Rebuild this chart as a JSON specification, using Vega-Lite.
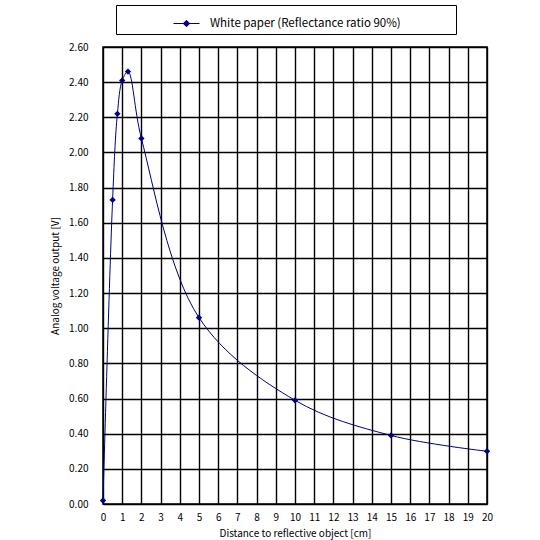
{
  "$schema": "https://vega.github.io/schema/vega-lite/v6.json",
  "width": 384,
  "height": 457,
  "autosize": {"type": "none"},
  "padding": {"left": 103, "top": 47, "right": 53, "bottom": 36},
  "background": "white",
  "data": {
    "values": [
      {"distance": 0, "voltage": 0.02, "series": "White paper (Reflectance ratio 90%)"},
      {"distance": 0.5, "voltage": 1.73, "series": "White paper (Reflectance ratio 90%)"},
      {"distance": 0.75, "voltage": 2.22, "series": "White paper (Reflectance ratio 90%)"},
      {"distance": 1, "voltage": 2.41, "series": "White paper (Reflectance ratio 90%)"},
      {"distance": 1.3, "voltage": 2.46, "series": "White paper (Reflectance ratio 90%)"},
      {"distance": 2, "voltage": 2.08, "series": "White paper (Reflectance ratio 90%)"},
      {"distance": 5, "voltage": 1.06, "series": "White paper (Reflectance ratio 90%)"},
      {"distance": 10, "voltage": 0.59, "series": "White paper (Reflectance ratio 90%)"},
      {"distance": 15, "voltage": 0.39, "series": "White paper (Reflectance ratio 90%)"},
      {"distance": 20, "voltage": 0.3, "series": "White paper (Reflectance ratio 90%)"}
    ]
  },
  "encoding": {
    "x": {
      "field": "distance",
      "type": "quantitative",
      "scale": {"domain": [0, 20], "nice": false},
      "axis": {
        "title": "Distance to reflective object [cm]",
        "values": [0, 1, 2, 3, 4, 5, 6, 7, 8, 9, 10, 11, 12, 13, 14, 15, 16, 17, 18, 19, 20],
        "labelFlush": false,
        "labelPadding": 8,
        "titlePadding": 6
      }
    },
    "y": {
      "field": "voltage",
      "type": "quantitative",
      "scale": {"domain": [0, 2.6], "nice": false},
      "axis": {
        "title": "Analog voltage output [V]",
        "values": [0, 0.2, 0.4, 0.6, 0.8, 1, 1.2, 1.4, 1.6, 1.8, 2, 2.2, 2.4, 2.6],
        "format": ".2f",
        "labelFlush": false,
        "labelPadding": 15,
        "titlePadding": 8
      }
    },
    "color": {
      "field": "series",
      "type": "nominal",
      "scale": {"range": ["#000080"]},
      "legend": {
        "title": null,
        "orient": "none",
        "legendX": 13,
        "legendY": -42,
        "strokeColor": "black",
        "fillColor": "white",
        "padding": 5,
        "symbolType": "M-1,0H1M-0.25,0L0,-0.25L0.25,0L0,0.25Z",
        "symbolSize": 676,
        "symbolStrokeWidth": 1,
        "symbolFillColor": "#000080",
        "symbolStrokeColor": "#000080",
        "symbolOffset": 52,
        "labelOffset": 10,
        "labelExpr": "datum.label + '\u00a0\u00a0\u00a0\u00a0\u00a0\u00a0\u00a0\u00a0\u00a0\u00a0\u00a0\u00a0\u00a0\u00a0\u00a0\u00a0\u2800'",
        "labelFontSize": 11.5,
        "labelLimit": 500
      }
    }
  },
  "layer": [
    {
      "mark": {"type": "line", "interpolate": "catmull-rom", "strokeWidth": 1}
    },
    {
      "mark": {"type": "point", "shape": "diamond", "filled": true, "size": 40, "opacity": 1}
    }
  ],
  "config": {
    "font": "Noto Sans CJK JP",
    "view": {"stroke": "black", "strokeWidth": 1.5},
    "axis": {
      "grid": true,
      "gridColor": "black",
      "gridWidth": 1.4,
      "gridOpacity": 1,
      "domain": false,
      "ticks": false,
      "labelFontSize": 10,
      "labelColor": "black",
      "titleFontSize": 10,
      "titleFontWeight": "normal",
      "titleColor": "black"
    },
    "legend": {"labelColor": "black"}
  }
}
